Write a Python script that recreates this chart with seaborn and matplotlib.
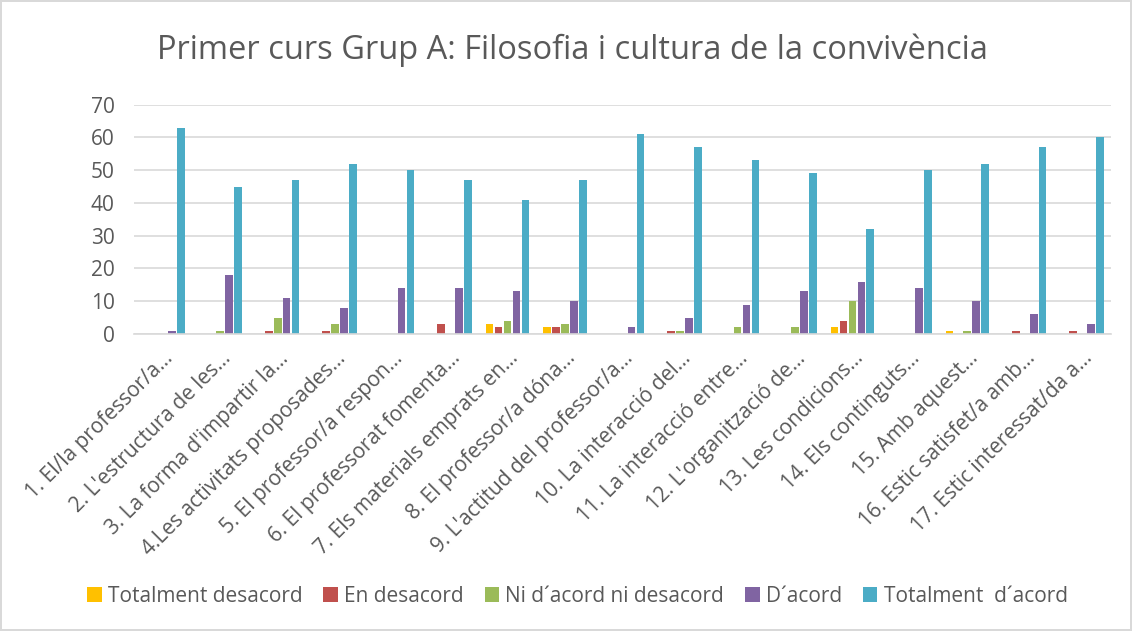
import pandas as pd
import matplotlib.pyplot as plt
import seaborn as sns

# Question labels (truncated as in the original chart)
questions = [
    "1. El/la professor/a...", "2. L'estructura de les...", "3. La forma d'impartir la...",
    "4.Les activitats proposades...", "5. El professor/a respon...", "6. El professorat fomenta...",
    "7. Els materials emprats en...", "8. El professor/a dóna...", "9. L'actitud del professor/a...",
    "10. La interacció del...", "11. La interacció entre...", "12. L'organització de...",
    "13. Les condicions...", "14. Els continguts...", "15. Amb aquest...",
    "16. Estic satisfet/a amb...", "17. Estic interessat/da a...",
]
categories = ["Totalment desacord", "En desacord", "Ni d´acord ni desacord", "D´acord", "Totalment  d´acord"]

totalment_desacord = [0, 0, 0, 0, 0, 0, 3, 2, 0, 0, 0, 0, 2, 0, 1, 0, 0]
en_desacord = [0, 0, 1, 1, 0, 3, 2, 2, 0, 1, 0, 0, 4, 0, 0, 1, 1]
ni_acord = [0, 1, 5, 3, 0, 0, 4, 3, 0, 1, 2, 2, 10, 0, 1, 0, 0]
d_acord = [1, 18, 11, 8, 14, 14, 13, 10, 2, 5, 9, 13, 16, 14, 10, 6, 3]
totalment_acord = [63, 45, 47, 52, 50, 47, 41, 47, 61, 57, 53, 49, 32, 50, 52, 57, 60]

colors = ["#FFC000", "#C0504D", "#9BBB59", "#8064A2", "#4BACC6"]

series = [totalment_desacord, en_desacord, ni_acord, d_acord, totalment_acord]
rows = []
for cat, vals in zip(categories, series):
    for q, v in zip(questions, vals):
        rows.append({"pregunta": q, "resposta": cat, "valor": v})
df = pd.DataFrame(rows)

sns.set_style("white")
plt.rcParams['font.family'] = ['Open Sans', 'DejaVu Sans']

fig = plt.figure(figsize=(11.32, 6.31), dpi=100, edgecolor='#d9d9d9', linewidth=1.5)
ax = fig.add_axes([0.1184, 0.4707, 0.863, 0.3634])

sns.barplot(data=df, x="pregunta", y="valor", hue="resposta", hue_order=categories,
            palette=colors, saturation=1, width=0.78, gap=0.15, linewidth=0,
            ax=ax, legend=True)

ax.set_ylim(0, 70)
ax.set_yticks(range(0, 71, 10))
ax.yaxis.grid(True, color='#d9d9d9', linewidth=1.2)
ax.set_axisbelow(True)
for s in ["top", "right", "left"]:
    ax.spines[s].set_visible(False)
ax.spines["bottom"].set_color('#d9d9d9')
ax.spines["bottom"].set_linewidth(1.2)
ax.tick_params(axis='both', length=0, labelsize=15, colors='#595959')
ax.tick_params(axis='y', pad=14)
ax.tick_params(axis='x', pad=10)
ax.set_xlabel("")
ax.set_ylabel("")
plt.setp(ax.get_xticklabels(), rotation=45, ha='right', rotation_mode='anchor')
ax.set_xlim(-0.5, len(questions) - 0.5)

fig.text(0.506, 0.921, "Primer curs Grup A: Filosofia i cultura de la convivència",
         ha='center', va='center', fontsize=23.5, color='#595959')

handles, labels = ax.get_legend_handles_labels()
ax.get_legend().remove()
fig.legend(handles, labels, loc='center', bbox_to_anchor=(0.51, 0.055), ncol=5,
           frameon=False, fontsize=15, labelcolor='#595959', handlelength=0.7,
           handleheight=0.7, handletextpad=0.3, columnspacing=1.0)

fig.savefig("out.png", dpi=100, edgecolor=fig.get_edgecolor())
